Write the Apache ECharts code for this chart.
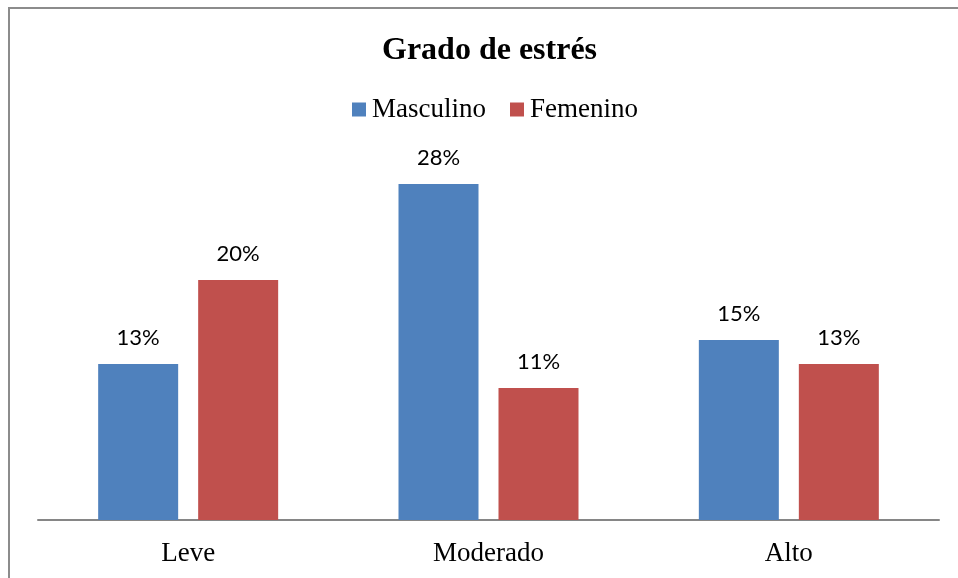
<!DOCTYPE html>
<html>
<head>
<meta charset="utf-8">
<script src="https://cdn.jsdelivr.net/npm/echarts@6/dist/echarts.min.js"></script>
<style>
  html, body { margin: 0; padding: 0; background: #fff; }
  #chart { width: 958px; height: 578px; }
</style>
</head>
<body>
<div id="chart"></div>
<script>
// datos del grafico
const categorias = ['Leve', 'Moderado', 'Alto'];
const masculino = [13, 28, 15];
const femenino = [20, 11, 13];

let chart = echarts.init(document.getElementById('chart'));

const labelStyle = {
  show: true,
  position: 'top',
  distance: 15,
  formatter: '{c}%',
  fontFamily: 'Lato',
  fontSize: 22,
  color: '#000'
};

const option = {
  animation: false,
  title: {
    text: 'Grado de estrés',
    left: 377,
    top: 30,
    textStyle: {
      fontFamily: 'Liberation Serif',
      fontWeight: 'bold',
      fontSize: 32,
      color: '#000'
    }
  },
  legend: {
    data: ['Masculino', 'Femenino'],
    top: 91,
    left: 347,
    itemWidth: 14,
    itemHeight: 14,
    itemGap: 24,
    icon: 'rect',
    textStyle: {
      fontFamily: 'Liberation Serif',
      fontSize: 27,
      color: '#000',
      padding: [0, 0, 0, 1]
    }
  },
  grid: {
    left: 38,
    right: 19,
    top: 160,
    bottom: 58
  },
  xAxis: {
    type: 'category',
    data: categorias,
    axisLine: { lineStyle: { color: '#868686', width: 2 } },
    axisTick: { show: false },
    axisLabel: {
      margin: 20,
      fontFamily: 'Liberation Serif',
      fontSize: 27,
      color: '#000'
    }
  },
  yAxis: {
    type: 'value',
    min: 0,
    max: 30,
    show: false,
    splitLine: { show: false }
  },
  series: [
    {
      name: 'Masculino',
      type: 'bar',
      data: masculino,
      barWidth: 80,
      barGap: '25%',
      itemStyle: { color: '#4F81BD' },
      label: labelStyle
    },
    {
      name: 'Femenino',
      type: 'bar',
      data: femenino,
      barWidth: 80,
      barGap: '25%',
      itemStyle: { color: '#C0504D' },
      label: labelStyle
    }
  ],
  graphic: [
    {
      type: 'polyline',
      shape: { points: [[9, 578], [9, 8], [958, 8]] },
      style: { stroke: '#8c8c8c', lineWidth: 2, fill: null }
    }
  ]
};

chart.setOption(option);
</script>
</body>
</html>
